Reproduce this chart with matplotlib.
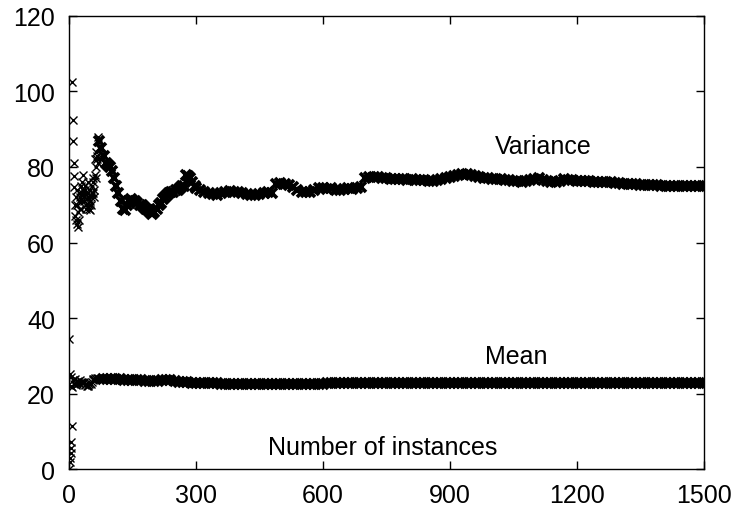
import numpy as np
import matplotlib
matplotlib.use("Agg")
import matplotlib.pyplot as plt

plt.rcParams['font.family'] = ['Liberation Sans', 'DejaVu Sans']

# --- variance: first few instances (scattered)
var_n0 = [1, 2, 3, 4, 5, 6, 7, 8, 9, 10, 11, 12, 13]
var_v0 = [0.0, 1.8, 3.1, 4.4, 5.7, 7.1, 11.5, 102.4, 92.4, 86.8, 81.0, 77.5, 74.6]

# instances 14..70, step 2
var_v1 = [67, 72, 65, 70, 64, 73, 69, 75, 71, 73,
          78, 72, 74, 70, 71.5, 76, 73, 69, 68.5, 72,
          75, 73, 77, 74, 82, 80, 83, 81, 85]
# instances 15..69, step 2
var_v1b = [70, 66, 74, 68, 66, 71, 72, 69, 76, 74,
           71, 73, 75, 69, 73, 72, 70, 74, 71, 70,
           73, 76, 72, 78, 77, 84, 82, 88]

# instances 72..297, step 5
var_v2 = [87, 85, 83, 81, 80.5, 80, 79, 77, 75, 73,
          71, 69, 68.5, 70, 71, 71.5, 71, 71, 70.5, 70,
          70, 69.5, 69, 68.5, 68, 67.5, 68, 69, 70, 70.5,
          71.5, 72, 72.5, 73, 73.5, 73.5, 74, 74, 74.5, 75,
          75, 78, 77.5, 77, 76, 75]

# instances 300..1500, step 10
var_v3 = [74.5, 74.0, 73.5, 73.0, 72.8, 72.5, 73.0, 73.5, 73.7, 73.5,
          73.3, 73.0, 72.8, 72.6, 72.5, 72.8, 73.0, 73.3, 73.0, 75.5,
          75.8, 75.6, 75.3, 74.8, 74.0, 73.5, 73.3, 73.5, 74.0, 74.3,
          74.3, 74.2, 74.3, 74.0, 74.0, 74.2, 74.3, 74.2, 74.4, 74.6,
          77.0, 77.3, 77.4, 77.3, 77.1, 77.0, 76.9, 76.8, 76.7, 76.7,
          76.6, 76.7, 76.6, 76.6, 76.5, 76.4, 76.4, 76.5, 76.7, 77.0,
          77.4, 77.7, 77.9, 78.1, 78.1, 77.9, 77.6, 77.4, 77.2, 77.0,
          76.9, 76.8, 76.7, 76.6, 76.5, 76.3, 76.2, 76.1, 76.3, 76.6,
          76.8, 77.0, 76.6, 76.3, 76.1, 75.9, 76.4, 76.7, 76.6, 76.5,
          76.4, 76.3, 76.2, 76.2, 76.1, 76.1, 76.0, 76.0, 75.9, 75.8,
          75.7, 75.6, 75.5, 75.4, 75.4, 75.3, 75.2, 75.2, 75.1, 75.1,
          75.0, 75.0, 75.0, 74.9, 74.9, 75.0, 75.0, 75.0, 74.9, 75.0,
          75.0]

# --- mean
mean_n0 = [1]
mean_v0 = [34.4]

# instances 2..70, step 2
mean_v1 = [25.2, 22.0, 24.5, 21.8, 23.5, 22.5, 23.8, 22.2, 23.0, 22.6,
           23.4, 22.8, 23.5, 23.0, 22.7, 23.2, 22.8, 23.0, 22.4, 22.6,
           22.0, 22.3, 22.0, 22.5, 22.8, 22.6, 23.2, 23.5, 23.8, 24.0,
           24.1, 24.0, 24.2, 24.1, 24.0]

# instances 80..1500, step 10
mean_v2 = [24.0, 23.9, 23.9, 23.8, 23.8, 23.7, 23.7, 23.6, 23.6, 23.5,
           23.4, 23.3, 23.3, 23.4, 23.5, 23.6, 23.6, 23.4, 23.2, 23.1,
           23.0, 22.9, 22.9, 22.8, 22.8, 22.7, 22.7, 22.7, 22.6, 22.6,
           22.6, 22.6, 22.5, 22.5, 22.5, 22.5, 22.5, 22.5, 22.5, 22.5,
           22.6, 22.6, 22.6, 22.6, 22.6, 22.6, 22.6, 22.6, 22.6, 22.6,
           22.6, 22.6, 22.6, 22.7, 22.7, 22.7, 22.7, 22.7, 22.7, 22.7,
           22.8, 22.8, 22.8, 22.8, 22.8, 22.8, 22.8, 22.8, 22.8, 22.8,
           22.8, 22.8, 22.8, 22.8, 22.8, 22.8, 22.8, 22.8, 22.8, 22.8,
           22.8, 22.8, 22.9, 22.9, 22.9, 22.9, 22.9, 22.9, 22.9, 22.9,
           22.9, 22.9, 22.9, 22.9, 22.9, 22.9, 22.9, 22.9, 22.9, 22.9,
           22.9, 22.9, 22.9, 22.9, 22.9, 22.9, 22.9, 22.9, 22.9, 22.9,
           22.9, 22.9, 22.9, 22.9, 22.9, 22.9, 22.9, 22.9, 22.9, 22.9,
           22.8, 22.8, 22.8, 22.8, 22.8, 22.8, 22.8, 22.8, 22.8, 22.8,
           22.8, 22.8, 22.8, 22.8, 22.8, 22.8, 22.8, 22.8, 22.8, 22.8,
           22.8, 22.8, 22.8]

x_ticks = [0, 300, 600, 900, 1200, 1500]
y_ticks = [0, 20, 40, 60, 80, 100, 120]

# early, scattered points
early_n = np.concatenate([var_n0, np.arange(14, 71, 2), np.arange(15, 70, 2),
                          mean_n0, np.arange(2, 71, 2)])
early_v = np.concatenate([var_v0, var_v1, var_v1b, mean_v0, mean_v1])
# dense part, where the crosses merge into a thick band
var_n = np.concatenate([np.arange(72, 298, 5), np.arange(300, 1501, 10)])
var_v = np.concatenate([var_v2, var_v3])
mean_n = np.arange(80, 1501, 10)
mean_v = np.array(mean_v2)

fig = plt.figure(figsize=(7.33, 5.10), dpi=100)
ax = fig.add_axes([0.094, 0.078, 0.866, 0.889])

ax.plot(early_n, early_v, linestyle='none', marker='x', color='black',
        markersize=5.2, markeredgewidth=1.0)
ax.plot(var_n, var_v, linestyle='none', marker='x', color='black',
        markersize=7.5, markeredgewidth=2.6)
ax.plot(mean_n, mean_v, linestyle='none', marker='x', color='black',
        markersize=6.5, markeredgewidth=2.6)

ax.set_xlim(0, 1500)
ax.set_ylim(0, 120)
ax.set_xticks(x_ticks)
ax.set_yticks(y_ticks)
ax.tick_params(direction='in', length=6, width=1, top=True, right=True,
               labelsize=18, pad=10)
for s in ax.spines.values():
    s.set_linewidth(1)

ax.text(1120, 85.5, "Variance", fontsize=18, ha='center', va='center')
ax.text(1058, 30, "Mean", fontsize=18, ha='center', va='center')
ax.text(742, 6, "Number of instances", fontsize=18, ha='center', va='center')

fig.savefig("out.png", dpi=100)
